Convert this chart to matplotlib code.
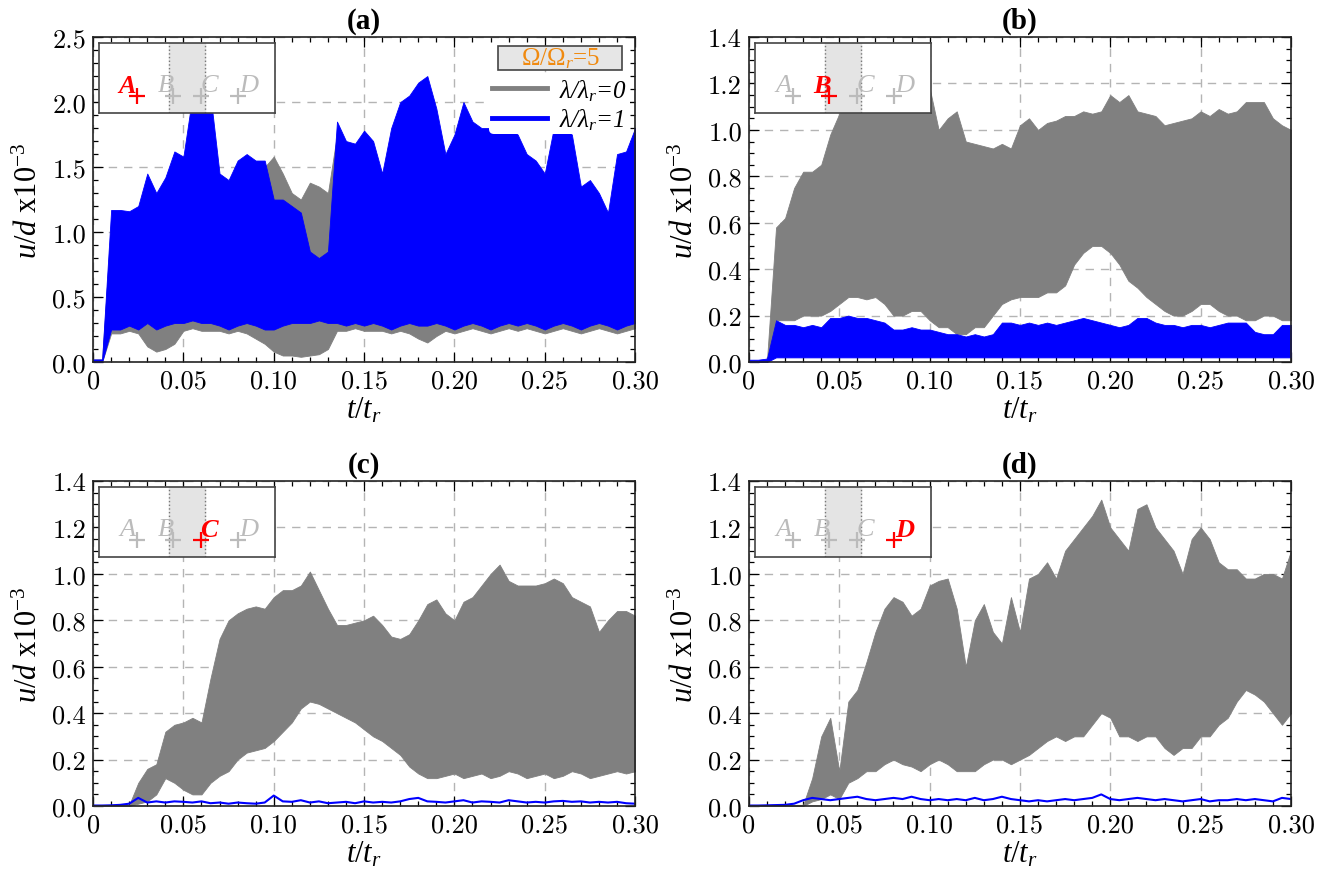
import matplotlib
matplotlib.use('Agg')
import matplotlib.pyplot as plt
import matplotlib.ticker as ticker
from matplotlib.lines import Line2D
from matplotlib.patches import Rectangle

plt.rcParams['font.family'] = ['Liberation Serif', 'DejaVu Serif']
plt.rcParams['mathtext.fontset'] = 'custom'
plt.rcParams['mathtext.rm'] = 'Liberation Serif'
plt.rcParams['mathtext.it'] = 'Liberation Serif:italic'
plt.rcParams['mathtext.bf'] = 'Liberation Serif:bold'

# time samples t/t_r (every 0.005)
t = [round(0.005 * i, 3) for i in range(61)]

# (a) probe A : envelopes of u/d x1e-3
a_gray_hi = [0.02, 0.02, 1.07, 1.07, 1.06, 1.10, 1.35, 1.20, 1.32, 1.52, 1.48, 1.90, 1.95,
             1.95, 1.35, 1.30, 1.45, 1.50, 1.45, 1.50, 1.58, 1.45, 1.30, 1.25, 1.38, 1.35,
             1.30, 1.75, 1.60, 1.58, 1.68, 1.60, 1.35, 1.70, 1.90, 1.95, 2.05, 2.10, 1.85,
             1.50, 1.65, 1.90, 1.75, 1.70, 1.70, 1.70, 1.70, 1.65, 1.50, 1.45, 1.35, 1.70,
             1.70, 1.65, 1.25, 1.30, 1.20, 1.05, 1.50, 1.52, 1.70]
a_gray_lo = [0.0, 0.0, 0.22, 0.22, 0.24, 0.22, 0.12, 0.08, 0.10, 0.14, 0.24, 0.26, 0.24,
             0.24, 0.24, 0.22, 0.24, 0.22, 0.18, 0.14, 0.08, 0.05, 0.05, 0.04, 0.05, 0.06,
             0.10, 0.24, 0.24, 0.26, 0.24, 0.24, 0.24, 0.22, 0.24, 0.22, 0.18, 0.15, 0.20,
             0.24, 0.22, 0.24, 0.26, 0.24, 0.22, 0.24, 0.26, 0.24, 0.26, 0.24, 0.22, 0.24,
             0.26, 0.24, 0.22, 0.24, 0.26, 0.24, 0.22, 0.24, 0.26]
a_blue_hi = [0.02, 0.02, 1.17, 1.17, 1.16, 1.20, 1.45, 1.30, 1.42, 1.62, 1.58, 2.05, 2.05,
             2.05, 1.45, 1.40, 1.55, 1.60, 1.55, 1.55, 1.25, 1.25, 1.20, 1.15, 0.85, 0.80,
             0.85, 1.85, 1.70, 1.68, 1.78, 1.70, 1.45, 1.80, 2.00, 2.05, 2.15, 2.20, 1.95,
             1.60, 1.75, 2.00, 1.85, 1.80, 1.80, 1.80, 1.80, 1.75, 1.60, 1.55, 1.45, 1.80,
             1.80, 1.75, 1.35, 1.40, 1.30, 1.15, 1.60, 1.62, 1.80]
a_blue_lo = [0.0, 0.0, 0.25, 0.25, 0.28, 0.25, 0.30, 0.25, 0.28, 0.30, 0.30, 0.32, 0.30,
             0.30, 0.28, 0.25, 0.28, 0.30, 0.28, 0.25, 0.25, 0.28, 0.30, 0.30, 0.30, 0.32,
             0.30, 0.30, 0.28, 0.30, 0.28, 0.30, 0.28, 0.25, 0.28, 0.30, 0.28, 0.28, 0.30,
             0.28, 0.25, 0.28, 0.30, 0.28, 0.25, 0.28, 0.30, 0.28, 0.30, 0.28, 0.25, 0.28,
             0.30, 0.28, 0.25, 0.28, 0.30, 0.28, 0.25, 0.28, 0.30]

# (b) probe B
b_gray_hi = [0.005, 0.005, 0.01, 0.58, 0.62, 0.75, 0.82, 0.82, 0.85, 0.98, 1.07, 1.10, 1.12,
             1.12, 1.12, 1.13, 1.13, 1.14, 1.15, 1.15, 1.18, 1.00, 1.05, 1.08, 0.95, 0.94,
             0.93, 0.92, 0.94, 0.92, 1.02, 1.05, 1.00, 1.03, 1.04, 1.06, 1.06, 1.08, 1.07,
             1.08, 1.15, 1.12, 1.15, 1.08, 1.07, 1.06, 1.02, 1.03, 1.04, 1.05, 1.08, 1.06,
             1.09, 1.07, 1.08, 1.12, 1.12, 1.12, 1.05, 1.02, 1.00]
b_gray_lo = [0.0, 0.0, 0.005, 0.18, 0.18, 0.18, 0.20, 0.20, 0.20, 0.22, 0.25, 0.28, 0.28,
             0.27, 0.28, 0.25, 0.20, 0.20, 0.22, 0.22, 0.18, 0.15, 0.15, 0.12, 0.12, 0.15,
             0.15, 0.20, 0.25, 0.27, 0.28, 0.28, 0.28, 0.30, 0.30, 0.33, 0.42, 0.47, 0.50,
             0.50, 0.47, 0.42, 0.35, 0.32, 0.28, 0.25, 0.22, 0.20, 0.20, 0.22, 0.25, 0.25,
             0.22, 0.20, 0.20, 0.18, 0.18, 0.20, 0.20, 0.18, 0.18]
b_blue_hi = [0.01, 0.01, 0.015, 0.18, 0.16, 0.16, 0.15, 0.16, 0.15, 0.19, 0.19, 0.20, 0.19,
             0.19, 0.18, 0.17, 0.14, 0.14, 0.15, 0.14, 0.14, 0.13, 0.12, 0.12, 0.11, 0.12,
             0.11, 0.12, 0.17, 0.17, 0.16, 0.17, 0.16, 0.17, 0.16, 0.17, 0.18, 0.19, 0.18,
             0.17, 0.16, 0.15, 0.16, 0.19, 0.19, 0.17, 0.16, 0.16, 0.15, 0.16, 0.16, 0.15,
             0.16, 0.17, 0.17, 0.17, 0.13, 0.12, 0.12, 0.16, 0.16]
b_blue_lo = [0.0, 0.0, 0.0, 0.02, 0.02, 0.02, 0.02, 0.02, 0.02, 0.02, 0.02, 0.02, 0.02,
             0.02, 0.02, 0.02, 0.02, 0.02, 0.02, 0.02, 0.02, 0.02, 0.02, 0.02, 0.02, 0.02,
             0.02, 0.02, 0.02, 0.02, 0.02, 0.02, 0.02, 0.02, 0.02, 0.02, 0.02, 0.02, 0.02,
             0.02, 0.02, 0.02, 0.02, 0.02, 0.02, 0.02, 0.02, 0.02, 0.02, 0.02, 0.02, 0.02,
             0.02, 0.02, 0.02, 0.02, 0.02, 0.02, 0.02, 0.02, 0.02]

# (c) probe C
c_gray_hi = [0.005, 0.005, 0.005, 0.005, 0.005, 0.10, 0.16, 0.18, 0.32, 0.35, 0.36, 0.38, 0.36,
             0.55, 0.72, 0.80, 0.83, 0.85, 0.86, 0.85, 0.90, 0.93, 0.93, 0.95, 1.01, 0.93,
             0.85, 0.78, 0.78, 0.79, 0.80, 0.82, 0.78, 0.73, 0.72, 0.74, 0.80, 0.87, 0.89,
             0.83, 0.80, 0.88, 0.90, 0.95, 1.00, 1.04, 0.97, 0.95, 0.95, 0.95, 0.96, 0.98,
             0.96, 0.90, 0.88, 0.86, 0.75, 0.80, 0.84, 0.84, 0.82]
c_gray_lo = [0.0, 0.0, 0.0, 0.0, 0.0, 0.01, 0.02, 0.05, 0.12, 0.10, 0.07, 0.05, 0.05,
             0.10, 0.13, 0.15, 0.20, 0.23, 0.24, 0.25, 0.28, 0.32, 0.36, 0.42, 0.45, 0.44,
             0.42, 0.40, 0.38, 0.36, 0.33, 0.30, 0.28, 0.25, 0.22, 0.17, 0.14, 0.12, 0.12,
             0.13, 0.14, 0.12, 0.13, 0.14, 0.12, 0.13, 0.15, 0.14, 0.12, 0.13, 0.14, 0.12,
             0.13, 0.15, 0.14, 0.12, 0.13, 0.14, 0.15, 0.14, 0.15]
c_blue = [0.002, 0.002, 0.003, 0.005, 0.010, 0.035, 0.015, 0.020, 0.015, 0.020, 0.018, 0.015,
          0.020, 0.012, 0.015, 0.010, 0.015, 0.012, 0.010, 0.015, 0.045, 0.020, 0.018, 0.025,
          0.015, 0.020, 0.012, 0.015, 0.018, 0.012, 0.020, 0.015, 0.018, 0.015, 0.020, 0.030,
          0.035, 0.020, 0.018, 0.015, 0.020, 0.025, 0.015, 0.020, 0.018, 0.015, 0.025, 0.020,
          0.015, 0.018, 0.015, 0.020, 0.022, 0.018, 0.020, 0.015, 0.018, 0.015, 0.018, 0.012,
          0.010]

# (d) probe D
d_gray_hi = [0.005, 0.005, 0.005, 0.005, 0.005, 0.005, 0.005, 0.12, 0.30, 0.38, 0.15, 0.45, 0.50,
             0.62, 0.75, 0.85, 0.90, 0.88, 0.82, 0.85, 0.95, 0.97, 0.98, 0.85, 0.60, 0.80,
             0.87, 0.75, 0.70, 0.90, 0.75, 0.98, 1.00, 1.05, 0.98, 1.10, 1.15, 1.20, 1.25,
             1.32, 1.20, 1.15, 1.10, 1.28, 1.30, 1.20, 1.15, 1.10, 1.00, 1.15, 1.20, 1.15,
             1.05, 1.02, 1.02, 0.98, 0.98, 1.00, 1.00, 0.98, 1.10]
d_gray_lo = [0.0, 0.0, 0.0, 0.0, 0.0, 0.0, 0.0, 0.02, 0.03, 0.05, 0.03, 0.10, 0.12,
             0.15, 0.15, 0.18, 0.20, 0.18, 0.17, 0.15, 0.18, 0.20, 0.18, 0.15, 0.15, 0.15,
             0.18, 0.20, 0.20, 0.18, 0.20, 0.22, 0.25, 0.28, 0.30, 0.28, 0.30, 0.30, 0.35,
             0.40, 0.38, 0.30, 0.30, 0.28, 0.30, 0.30, 0.25, 0.22, 0.25, 0.25, 0.30, 0.30,
             0.35, 0.38, 0.45, 0.50, 0.48, 0.45, 0.40, 0.35, 0.40]
d_blue = [0.002, 0.002, 0.003, 0.004, 0.005, 0.010, 0.025, 0.035, 0.030, 0.025, 0.030, 0.035,
          0.040, 0.030, 0.025, 0.030, 0.035, 0.030, 0.040, 0.030, 0.025, 0.030, 0.025, 0.030,
          0.025, 0.035, 0.025, 0.030, 0.040, 0.030, 0.025, 0.020, 0.025, 0.020, 0.025, 0.030,
          0.025, 0.030, 0.035, 0.050, 0.030, 0.025, 0.030, 0.035, 0.030, 0.025, 0.030, 0.025,
          0.020, 0.025, 0.030, 0.020, 0.025, 0.025, 0.030, 0.025, 0.030, 0.025, 0.020, 0.035,
          0.030]

xticks = [0, 0.05, 0.10, 0.15, 0.20, 0.25, 0.30]
xticklabels = ['0', '0.05', '0.10', '0.15', '0.20', '0.25', '0.30']
yticks_a = [0, 0.5, 1.0, 1.5, 2.0, 2.5]
yticklabels_a = ['0.0', '0.5', '1.0', '1.5', '2.0', '2.5']
yticks_bcd = [0, 0.2, 0.4, 0.6, 0.8, 1.0, 1.2, 1.4]
yticklabels_bcd = ['0.0', '0.2', '0.4', '0.6', '0.8', '1.0', '1.2', '1.4']

probes = ['A', 'B', 'C', 'D']
probe_x = [0.216, 0.42, 0.58, 0.79]
label_x = [0.16, 0.38, 0.625, 0.85]

GRAY = '#808080'
BLUE = '#0000ff'


def style_axes(ax, title, yticks, yticklabels, yminor):
    ax.set_xlim(0, 0.30)
    ax.set_ylim(yticks[0], yticks[-1])
    ax.set_xticks(xticks)
    ax.set_xticklabels(xticklabels)
    ax.set_yticks(yticks)
    ax.set_yticklabels(yticklabels)
    ax.xaxis.set_minor_locator(ticker.MultipleLocator(0.01))
    ax.yaxis.set_minor_locator(ticker.MultipleLocator(yminor))
    ax.tick_params(which='both', direction='in', top=True, right=True, width=0.9)
    ax.tick_params(which='major', length=7, labelsize=19, pad=5)
    ax.tick_params(which='minor', length=3.5)
    for lab in ax.get_xticklabels() + ax.get_yticklabels():
        lab.set_fontfamily('cmr10')
    ax.grid(True, which='major', color='#b4b4b4', linestyle=(0, (6, 5)), linewidth=1.0)
    ax.set_axisbelow(True)
    for sp in ax.spines.values():
        sp.set_linewidth(1.2)
        sp.set_color('#222222')
    ax.set_xlabel(r'$t/t_r$', fontsize=22, labelpad=2)
    ax.set_ylabel(r'$u/d$ x10$^{-3}$', fontsize=22, labelpad=6)
    ax.set_title(title, fontsize=21, fontweight='bold', pad=7)


def draw_probe(ax, active):
    ins = ax.inset_axes([0.011, 0.766, 0.325, 0.2155])
    ins.set_xlim(0, 1)
    ins.set_ylim(0, 1)
    ins.set_xticks([])
    ins.set_yticks([])
    ins.set_facecolor('white')
    for sp in ins.spines.values():
        sp.set_linewidth(1.2)
        sp.set_color('#444444')
    ins.axvspan(0.40, 0.60, color='#e4e4e4', zorder=0)
    ins.axvline(0.40, color='#777777', linestyle=':', linewidth=1.0)
    ins.axvline(0.60, color='#777777', linestyle=':', linewidth=1.0)
    for i, name in enumerate(probes):
        col = 'red' if i == active else '#bbbbbb'
        ins.plot(probe_x[i], 0.24, marker='+', markersize=12, mew=1.6, color=col)
        ins.text(label_x[i], 0.40, name, color=col, fontsize=19, fontstyle='italic',
                 fontweight='bold' if i == active else 'normal', ha='center', va='center')
    ins.set_zorder(5)


fig = plt.figure(figsize=(13.41, 8.79), dpi=100)
ax_a = fig.add_axes([0.0694, 0.587, 0.4042, 0.3697])
ax_b = fig.add_axes([0.5585, 0.587, 0.4042, 0.3697])
ax_c = fig.add_axes([0.0694, 0.0819, 0.4042, 0.3697])
ax_d = fig.add_axes([0.5585, 0.0819, 0.4042, 0.3697])

# (a)
ax_a.fill_between(t, a_gray_lo, a_gray_hi, color=GRAY, lw=0.6)
ax_a.fill_between(t, a_blue_lo, a_blue_hi, color=BLUE, lw=0.6)
style_axes(ax_a, '(a)', yticks_a, yticklabels_a, 0.1)
draw_probe(ax_a, 0)

# legend: title box + two lines
ax_a.add_patch(Rectangle((0.747, 0.898), 0.229, 0.074, transform=ax_a.transAxes,
                         facecolor='#e6e6e6', edgecolor='#444444', linewidth=1.2, zorder=6))
ax_a.text(0.862, 0.935, r'Ω/Ω$_r$=5', transform=ax_a.transAxes, fontsize=18,
          color='#f08a10', ha='center', va='center', zorder=7)
handles = [Line2D([], [], color=GRAY, lw=3.5), Line2D([], [], color=BLUE, lw=3.5)]
leg = ax_a.legend(handles, [r'λ/λ$_r$=0', r'λ/λ$_r$=1'], loc='upper right',
                  bbox_to_anchor=(0.99, 0.885), frameon=True, fontsize=18,
                  handlelength=2.2, handletextpad=0.5, labelspacing=0.15,
                  borderpad=0.1, borderaxespad=0.0)
leg.get_frame().set_edgecolor('none')
leg.get_frame().set_facecolor('white')
leg.get_frame().set_alpha(1.0)
for txt in leg.get_texts():
    txt.set_fontstyle('italic')
leg.set_zorder(6)

# (b)
ax_b.fill_between(t, b_gray_lo, b_gray_hi, color=GRAY, lw=0.6)
ax_b.fill_between(t, b_blue_lo, b_blue_hi, color=BLUE, lw=0.6)
style_axes(ax_b, '(b)', yticks_bcd, yticklabels_bcd, 0.05)
draw_probe(ax_b, 1)

# (c)
ax_c.fill_between(t, c_gray_lo, c_gray_hi, color=GRAY, lw=0.6)
ax_c.plot(t, c_blue, color=BLUE, lw=1.5)
style_axes(ax_c, '(c)', yticks_bcd, yticklabels_bcd, 0.05)
draw_probe(ax_c, 2)

# (d)
ax_d.fill_between(t, d_gray_lo, d_gray_hi, color=GRAY, lw=0.6)
ax_d.plot(t, d_blue, color=BLUE, lw=1.5)
style_axes(ax_d, '(d)', yticks_bcd, yticklabels_bcd, 0.05)
draw_probe(ax_d, 3)

fig.savefig('out.png', dpi=100)
